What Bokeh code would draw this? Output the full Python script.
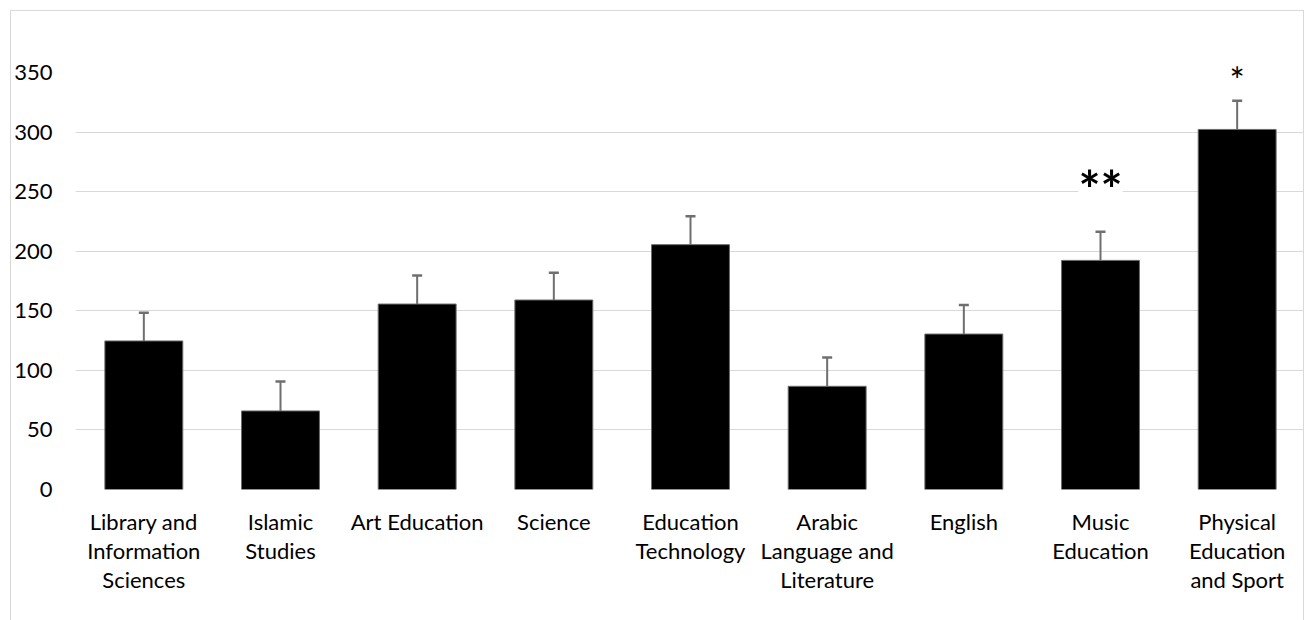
from bokeh.plotting import figure
from bokeh.models import Range1d, FixedTicker, ColumnDataSource, Whisker, TeeHead, Label
from bokeh.embed import file_html
from bokeh.resources import INLINE

categories = [
    "Library and\nInformation\nSciences",
    "Islamic\nStudies",
    "Art Education",
    "Science",
    "Education\nTechnology",
    "Arabic\nLanguage and\nLiterature",
    "English",
    "Music\nEducation",
    "Physical\nEducation\nand Sport",
]
means = [124.8, 66.0, 155.8, 159.2, 205.7, 86.7, 130.6, 192.5, 302.5]
errors = [23.8, 24.7, 23.9, 23.0, 23.8, 24.1, 24.4, 24.1, 24.2]
significance = ["", "", "", "", "", "", "", "**", "*"]
y_ticks = [0, 50, 100, 150, 200, 250, 300, 350]
grid_ticks = [0, 50, 100, 150, 200, 250, 300]

xs = list(range(len(categories)))
uppers = [m + e for m, e in zip(means, errors)]
src = ColumnDataSource(dict(x=xs, top=means, upper=uppers))

FONT = "Lato"

p = figure(width=1294, height=614,
           x_range=Range1d(-0.5, len(categories) - 0.5),
           y_range=Range1d(0, 401.6),
           output_backend="svg", toolbar_location=None,
           min_border_left=60, min_border_right=0,
           min_border_top=0, min_border_bottom=136)
p.styles = {"margin-left": "10px", "margin-top": "10px",
            "border": "1px solid #d9d9d9"}
p.outline_line_color = None
p.background_fill_color = "white"
p.border_fill_color = "white"

p.xgrid.visible = False
p.ygrid.ticker = FixedTicker(ticks=grid_ticks)
p.ygrid.grid_line_color = "#d9d9d9"
p.ygrid.grid_line_width = 1

p.yaxis.ticker = FixedTicker(ticks=y_ticks)
p.yaxis.axis_line_color = None
p.yaxis.major_tick_line_color = None
p.yaxis.minor_tick_line_color = None
p.yaxis.major_label_standoff = 17
p.yaxis.major_label_text_font = FONT
p.yaxis.major_label_text_font_size = "22px"
p.yaxis.major_label_text_color = "#000000"

p.xaxis.ticker = FixedTicker(ticks=xs)
p.xaxis.major_label_overrides = {i: c for i, c in zip(xs, categories)}
p.xaxis.axis_line_color = None
p.xaxis.major_tick_line_color = None
p.xaxis.minor_tick_line_color = None
p.xaxis.major_label_standoff = 12
p.xaxis.major_label_text_font = FONT
p.xaxis.major_label_text_font_size = "22px"
p.xaxis.major_label_text_line_height = 1.08
p.xaxis.major_label_text_color = "#000000"

p.vbar(x="x", top="top", width=0.57, source=src,
       fill_color="#000000", line_color="#6a6a6a", line_width=1)

w = Whisker(source=src, base="x", lower="top", upper="upper",
            line_color="#6f6f6f", line_width=2,
            upper_head=TeeHead(size=10, line_color="#6f6f6f", line_width=2.5),
            lower_head=None, level="overlay")
p.add_layout(w)

for x, u, s in zip(xs, uppers, significance):
    if s == "**":
        p.add_layout(Label(x=x, y=u + 35.5, text=s, text_align="center",
                           text_baseline="middle", text_font=FONT,
                           text_font_size="52px", text_font_style="bold",
                           text_color="#000000",
                           background_fill_color="white"))
    elif s == "*":
        p.add_layout(Label(x=x, y=u + 17, text=s, text_align="center",
                           text_baseline="middle", text_font=FONT,
                           text_font_size="36px", text_color="#000000"))

open("out.html", "w").write(file_html(p, INLINE))
